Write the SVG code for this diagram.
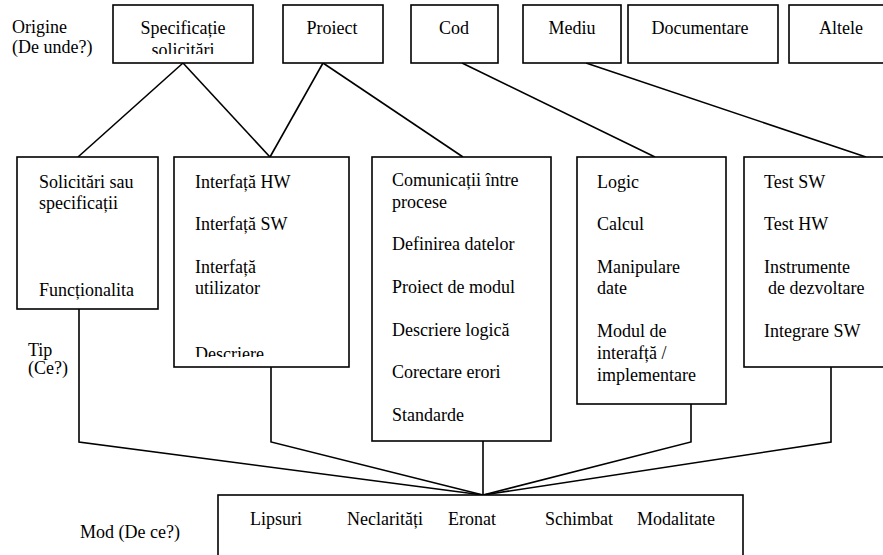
<svg xmlns="http://www.w3.org/2000/svg" width="883" height="555" viewBox="0 0 883 555">
  <style>
    .box { fill: #fff; stroke: #000; stroke-width: 1.6; }
    .ln { fill: none; stroke: #000; stroke-width: 1.6; }
    text { font-family: "Liberation Serif", "Times New Roman", serif; font-size: 18px; fill: #000; }
    .c { text-anchor: middle; }
  </style>
  <defs>
    <clipPath id="clipSpec"><rect x="113" y="5" width="140" height="49"/></clipPath>
    <clipPath id="clipIface"><rect x="174" y="157" width="175" height="200"/></clipPath>
  </defs>

  <!-- connectors -->
  <g id="connectors" class="ln">
    <line x1="183" y1="63" x2="78" y2="157"/>
    <line x1="183" y1="63" x2="270" y2="157"/>
    <line x1="323" y1="63" x2="270" y2="157"/>
    <line x1="323" y1="63" x2="463" y2="157"/>
    <line x1="462" y1="63" x2="655" y2="157"/>
    <line x1="586" y1="63" x2="866" y2="157"/>
    <polyline points="79,309 79,442 483,495"/>
    <polyline points="271,367 271,442 483,495"/>
    <polyline points="483,441 483,495"/>
    <polyline points="691,404 691,442 483,495"/>
    <polyline points="831,367 831,442 483,495"/>
  </g>

  <!-- row labels -->
  <g id="labels">
    <text x="12" y="33">Origine</text>
    <text x="12" y="53">(De unde?)</text>
    <text x="28" y="356">Tip</text>
    <text x="28" y="374">(Ce?)</text>
    <text x="80" y="538">Mod (De ce?)</text>
  </g>

  <!-- origin boxes -->
  <g id="orig-spec">
    <rect class="box" x="113" y="5" width="140" height="58"/>
    <g clip-path="url(#clipSpec)">
      <text class="c" x="183" y="34">Specificație</text>
      <text class="c" x="183" y="56">solicitări</text>
    </g>
  </g>
  <g id="orig-proiect">
    <rect class="box" x="283" y="5" width="100" height="58"/>
    <text class="c" x="332" y="34">Proiect</text>
  </g>
  <g id="orig-cod">
    <rect class="box" x="411" y="5" width="87" height="58"/>
    <text class="c" x="454" y="34">Cod</text>
  </g>
  <g id="orig-mediu">
    <rect class="box" x="523" y="5" width="98" height="58"/>
    <text class="c" x="572" y="34">Mediu</text>
  </g>
  <g id="orig-doc">
    <rect class="box" x="628" y="5" width="150" height="58"/>
    <text class="c" x="700" y="34">Documentare</text>
  </g>
  <g id="orig-altele">
    <rect class="box" x="789" y="5" width="110" height="58"/>
    <text class="c" x="841" y="34">Altele</text>
  </g>

  <!-- type boxes -->
  <g id="tip-solicitari">
    <rect class="box" x="17" y="157" width="141" height="152"/>
    <text x="39" y="188">Solicitări sau</text>
    <text x="39" y="209">specificații</text>
    <text x="39" y="296">Funcționalita</text>
  </g>
  <g id="tip-interfata">
    <rect class="box" x="174" y="157" width="175" height="210"/>
    <g clip-path="url(#clipIface)">
      <text x="195" y="188">Interfață HW</text>
      <text x="195" y="230">Interfață SW</text>
      <text x="195" y="273">Interfață</text>
      <text x="195" y="294">utilizator</text>
      <text x="195" y="360">Descriere</text>
    </g>
  </g>
  <g id="tip-comunicatii">
    <rect class="box" x="372" y="157" width="179" height="284"/>
    <text x="392" y="186">Comunicații între</text>
    <text x="392" y="208">procese</text>
    <text x="392" y="250">Definirea datelor</text>
    <text x="392" y="293">Proiect de modul</text>
    <text x="392" y="336">Descriere logică</text>
    <text x="392" y="378">Corectare erori</text>
    <text x="392" y="421">Standarde</text>
  </g>
  <g id="tip-logic">
    <rect class="box" x="577" y="157" width="149" height="247"/>
    <text x="597" y="188">Logic</text>
    <text x="597" y="230">Calcul</text>
    <text x="597" y="273">Manipulare</text>
    <text x="597" y="294">date</text>
    <text x="597" y="337">Modul de</text>
    <text x="597" y="359">interafță /</text>
    <text x="597" y="381">implementare</text>
  </g>
  <g id="tip-test">
    <rect class="box" x="744" y="157" width="150" height="210"/>
    <text x="764" y="188">Test SW</text>
    <text x="764" y="230">Test HW</text>
    <text x="764" y="273">Instrumente</text>
    <text x="768" y="294">de dezvoltare</text>
    <text x="764" y="337">Integrare SW</text>
  </g>

  <!-- mode box -->
  <g id="mod">
    <rect class="box" x="218" y="495" width="525" height="70"/>
    <text x="250" y="525">Lipsuri</text>
    <text x="347" y="525">Neclarități</text>
    <text x="448" y="525">Eronat</text>
    <text x="545" y="525">Schimbat</text>
    <text x="637" y="525">Modalitate</text>
  </g>
</svg>
